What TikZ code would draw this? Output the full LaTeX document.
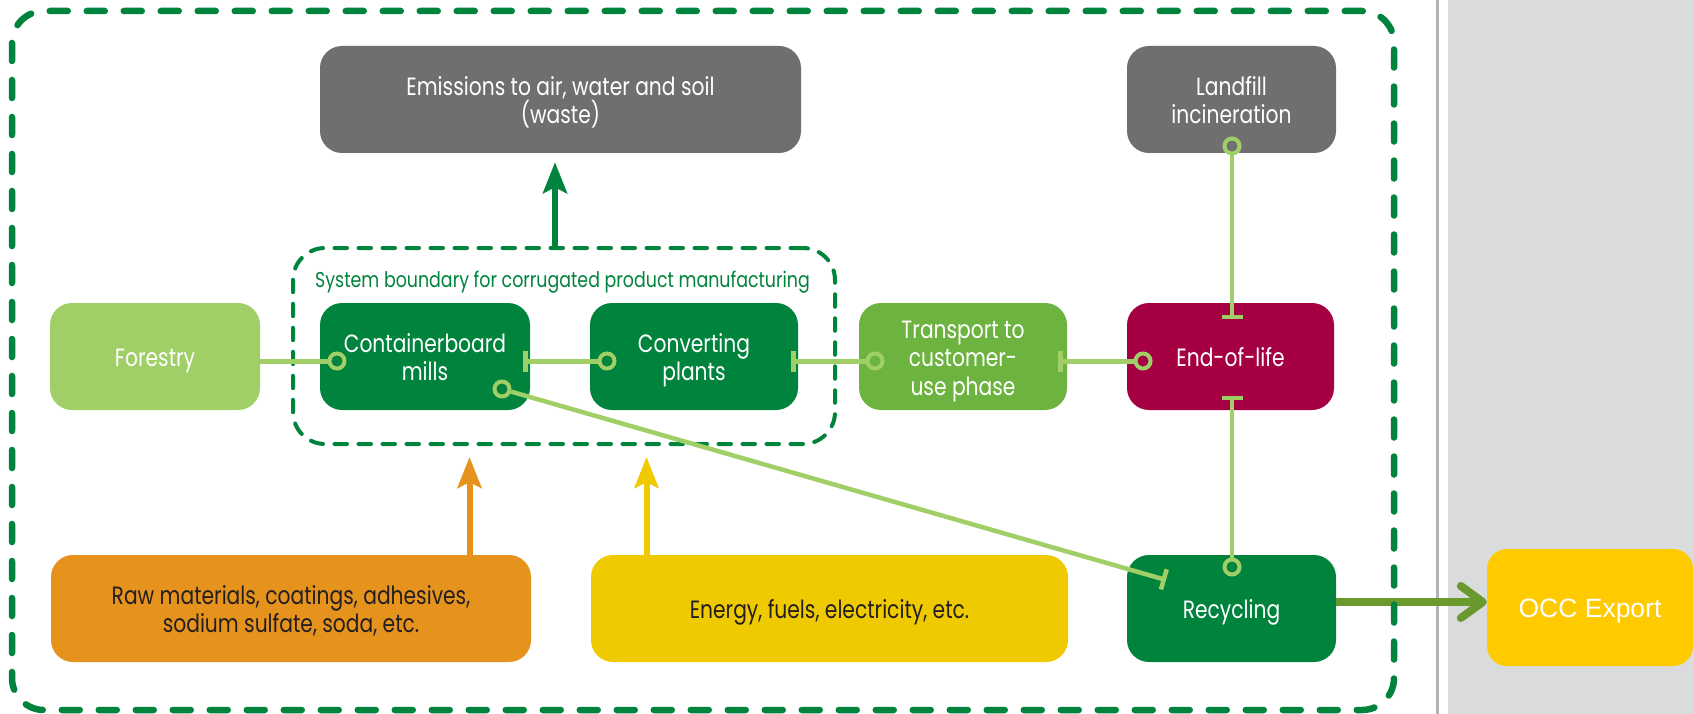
\documentclass[tikz,border=0pt]{standalone}
\usepackage{fontspec}
\newfontfamily\gfont[FakeStretch=0.81]{Poppins}
\newfontfamily\afont{Liberation Sans}
\usetikzlibrary{arrows.meta,calc}
\definecolor{dgreen}{HTML}{00843D}
\definecolor{lgreen}{HTML}{A0CF67}
\definecolor{mgreen}{HTML}{6DB33F}
\definecolor{eolred}{HTML}{A50044}
\definecolor{boxgray}{HTML}{6F6F70}
\definecolor{rawor}{HTML}{E6931E}
\definecolor{enyel}{HTML}{F0CA00}
\definecolor{occyel}{HTML}{FFCA00}
\definecolor{olive}{HTML}{6A9A2E}
\definecolor{panelgray}{HTML}{DADBDD}
\definecolor{sepgray}{HTML}{B3B3B3}
\definecolor{textdark}{HTML}{231F20}
\begin{document}
\begin{tikzpicture}[x=1pt,y=-1pt,
  box/.style={rounded corners=22pt, minimum height=107pt, inner sep=0pt, align=center, text=white, font=\gfont\fontsize{25}{28.5}\selectfont, text height=20pt, text depth=0pt},
  twolines/.style={text height=48.5pt},
  threelines/.style={text height=77pt},
  ring/.style={circle, draw=lgreen, line width=4pt, minimum size=15pt, inner sep=0pt},
  conn/.style={draw=lgreen, line width=5pt},
  vconn/.style={draw=lgreen, line width=4pt},
  barstart/.style={{Bar[width=21pt]}-},
  uparrow/.style={line width=6pt, -{Stealth[length=31pt,width=24pt,inset=6pt]}},
  outerframe/.style={draw=dgreen, line width=6.5pt, line cap=round, dash pattern=on 18pt off 19pt, rounded corners=32pt},
  innerframe/.style={draw=dgreen, line width=4pt, line cap=round, dash pattern=on 12.5pt off 11.5pt, rounded corners=32pt}
]
\useasboundingbox (0,0) rectangle (1694,714);
\fill[white] (0,0) rectangle (1437,714);
\fill[panelgray] (1448,0) rectangle (1694,714);
\draw[sepgray, line width=3pt] (1437.5,0) -- (1437.5,714);

% boxes
\node[box, twolines, fill=boxgray, minimum width=481pt] (emis) at (560.5,99.5) {Emissions to air, water and soil\\(waste)};
\node[box, twolines, fill=boxgray, minimum width=209pt] (land) at (1231.5,99.5) {Landfill\\incineration};
\node[box, fill=lgreen, minimum width=210pt] (forest) at (155,356.5) {Forestry};
\node[box, twolines, fill=dgreen, minimum width=210pt] (mills) at (425,356.5) {Containerboard\\mills};
\node[box, twolines, fill=dgreen, minimum width=208pt] (conv) at (694,356.5) {Converting\\plants};
\node[box, threelines, fill=mgreen, minimum width=208pt] (trans) at (963,356.5) {Transport to\\customer-\\use phase};
\node[box, fill=eolred, minimum width=207pt] (eol) at (1230.5,356.5) {End-of-life};
\node[box, twolines, fill=rawor, text=textdark, minimum width=480pt] (raw) at (291,608.5) {Raw materials, coatings, adhesives,\\sodium sulfate, soda, etc.};
\node[box, fill=enyel, text=textdark, minimum width=477pt] (energy) at (829.5,608.5) {Energy, fuels, electricity, etc.};
\node[box, fill=dgreen, minimum width=209pt] (recyc) at (1231.5,608.5) {Recycling};
\node[box, fill=occyel, minimum width=206pt, minimum height=117pt, rounded corners=20pt, font=\afont\fontsize{26.5}{30}\selectfont] (occ) at (1590,607.5) {OCC Export};

% system boundary
\node[innerframe, minimum width=542pt, minimum height=196pt, inner sep=0pt] (sb) at (564,346) {};
\node[text=dgreen, font=\gfont\fontsize{21.5}{24}\selectfont, inner sep=0pt, text height=15pt, text depth=0pt] (sblabel) at (562.5,280) {System boundary for corrugated product manufacturing};

% rings and bar points
\node[ring] (r1) at (337,361) {};
\coordinate (b2) at (523,361);
\node[ring] (r2) at (607,361) {};
\coordinate (b3) at (791,361);
\node[ring] (r3) at (875,361) {};
\coordinate (b4) at (1058,361);
\node[ring] (r4) at (1143,361) {};
\node[ring] (r5) at (1232,146) {};
\coordinate (b5) at (1232,319);
\coordinate (b6) at (1232,396);
\node[ring] (r6) at (1232,567) {};
\node[ring] (r7) at (502,389) {};
\coordinate (b7) at (1166,580);

% connectors
\draw[conn] ([yshift=-4.5pt]forest.east) -- (r1);
\draw[conn, barstart] (b2) -- (r2);
\draw[conn, barstart] (b3) -- (r3);
\draw[conn, barstart] (b4) -- (r4);
\draw[vconn, barstart] (b5) -- (r5);
\draw[vconn, barstart] (b6) -- (r6);
\draw[vconn, line width=4.5pt, barstart] (b7) -- (r7);

% arrows
\draw[dgreen, uparrow] ([xshift=-9pt]sb.north) -- ([xshift=-5.5pt,yshift=-9pt]emis.south);
\draw[rawor, uparrow] ([xshift=178.5pt]raw.north) -- ([xshift=-94.5pt,yshift=-11pt]sb.south);
\draw[enyel, uparrow] ([xshift=-183pt]energy.north) -- ([xshift=82.5pt,yshift=-11pt]sb.south);
\draw[olive, line width=8pt, -{Straight Barb[length=22pt,width=32pt,line width=8pt,line cap=round,line join=round]}] ([yshift=6.5pt]recyc.east) -- ([yshift=5.5pt]occ.west);

% outer frame
\draw[outerframe] (12,11) rectangle (1394,710);
\end{tikzpicture}
\end{document}
